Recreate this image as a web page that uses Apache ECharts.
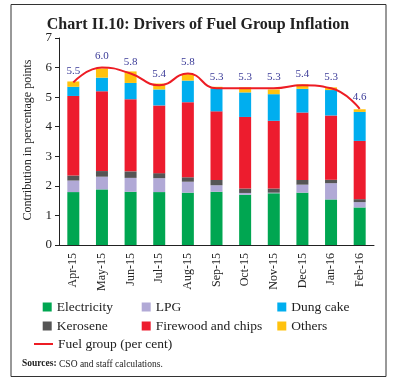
<!DOCTYPE html>
<html><head><meta charset="utf-8">
<script src="https://cdn.jsdelivr.net/npm/echarts@6/dist/echarts.min.js"></script>
<style>html,body{margin:0;padding:0;background:#fff}#c{width:396px;height:386px}</style>
</head><body><div id="c"></div>
<script>
const categories = ['Apr-15','May-15','Jun-15','Jul-15','Aug-15','Sep-15','Oct-15','Nov-15','Dec-15','Jan-16','Feb-16'];
const electricity = [1.79,1.88,1.80,1.79,1.77,1.80,1.70,1.75,1.77,1.54,1.27];
const lpg        = [0.39,0.43,0.47,0.47,0.37,0.22,0.06,0.02,0.27,0.55,0.18];
const kerosene   = [0.17,0.19,0.22,0.17,0.15,0.18,0.15,0.14,0.16,0.12,0.10];
const firewood   = [2.69,2.70,2.44,2.29,2.54,2.32,2.42,2.29,2.28,2.17,1.97];
const dungcake   = [0.31,0.46,0.55,0.54,0.73,0.77,0.83,0.90,0.80,0.86,0.98];
const others     = [0.18,0.31,0.39,0.20,0.22,0.06,0.17,0.16,0.15,0.09,0.09];
const fuelGroup  = [5.5,6.0,5.8,5.4,5.8,5.3,5.3,5.3,5.4,5.3,4.6];
const yTicks = [0,1,2,3,4,5,6,7];

const SERIF = '"Liberation Serif", "DejaVu Serif", serif';
const colors = {
  'Electricity':'#00a651','LPG':'#b1a9d6','Kerosene':'#555555',
  'Firewood and chips':'#ed1c2e','Dung cake':'#00aeef','Others':'#ffc20e'
};
const stackData = [
  ['Electricity', electricity],['LPG', lpg],['Kerosene', kerosene],
  ['Firewood and chips', firewood],['Dung cake', dungcake],['Others', others]
];
const series = stackData.map(([name, d]) => ({
  name, type:'bar', stack:'s', data:d, barWidth:12,
  itemStyle:{color:colors[name]}
}));
series.push({
  name:'Fuel group (per cent)', type:'line', data:fuelGroup, smooth:true,
  symbol:'circle', symbolSize:0.01, itemStyle:{color:'#ed1c24'},
  lineStyle:{color:'#ed1c24', width:2},
  label:{show:true, position:'top', distance:6, color:'#3b3b98',
    fontFamily:SERIF, fontSize:11, formatter:p=>p.value.toFixed(1)},
  z:5
});

function leg(name, left, top, icon, w, h){
  return {left, top, padding:0, itemWidth:w||9, itemHeight:h||9,
    data:[{name, icon:icon||'rect'}], selectedMode:false,
    textStyle:{fontFamily:SERIF, fontSize:13.5, color:'#222'}};
}

const chart = echarts.init(document.getElementById('c'));
chart.setOption({
  animation:false,
  title:{text:'Chart II.10: Drivers of Fuel Group Inflation', left:'center', top:12,
    textStyle:{fontFamily:SERIF, fontWeight:'bold', fontSize:16, color:'#222'}},
  grid:{left:59, right:22, top:38, bottom:141, containLabel:false},
  legend:[
    leg('Electricity',42.7,300), leg('LPG',141.7,300), leg('Dung cake',277.3,300),
    leg('Kerosene',42.7,319), leg('Firewood and chips',141.7,319), leg('Others',277.3,319),
    leg('Fuel group (per cent)',34,337,'rect',19,2)
  ],
  xAxis:{type:'category', data:categories,
    axisLine:{lineStyle:{color:'#222'}}, axisTick:{length:5, lineStyle:{color:'#222'}},
    axisLabel:{rotate:90, margin:8, fontFamily:SERIF, fontSize:12, color:'#222'}},
  yAxis:{type:'value', min:0, max:7, interval:1,
    axisLine:{show:true, lineStyle:{color:'#222'}},
    axisTick:{show:true, length:4, lineStyle:{color:'#222'}},
    splitLine:{show:false},
    axisLabel:{margin:7, fontFamily:SERIF, fontSize:13, color:'#222',
      formatter:v=>yTicks.includes(v)?String(v):''}},
  series,
  graphic:[
    {type:'rect', shape:{x:11, y:4.5, width:375, height:372}, style:{fill:'none', stroke:'#333', lineWidth:1}},
    {type:'text', x:28, y:140, rotation:Math.PI/2,
      style:{text:'Contribution in percentage points', font:'12px '+SERIF, fill:'#222', align:'center', verticalAlign:'middle'}},
    {type:'text', x:22, y:364,
      style:{text:'{b|Sources:} CSO and staff calculations.', verticalAlign:'middle',
        rich:{b:{fontWeight:'bold', fontFamily:SERIF, fontSize:9.5, fill:'#222'}},
        font:'9.5px '+SERIF, fill:'#222'}}
  ]
});
</script></body></html>
